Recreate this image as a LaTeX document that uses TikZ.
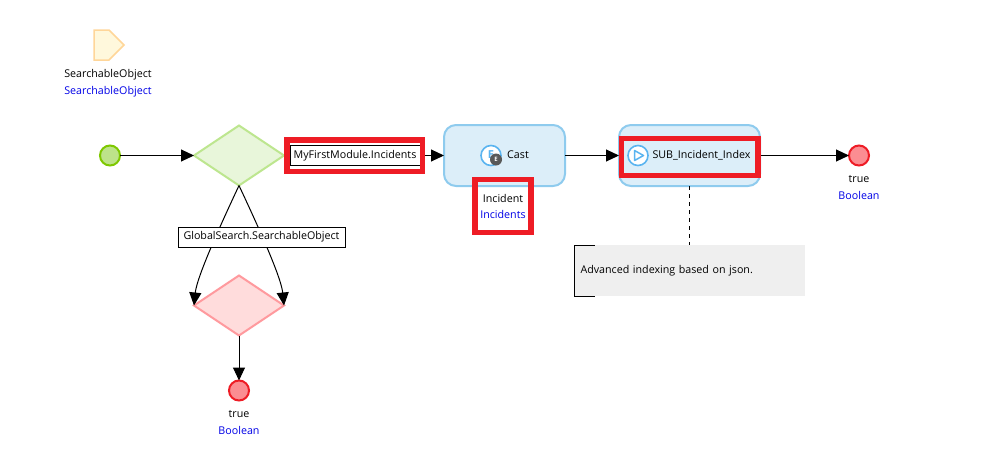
\documentclass[tikz,border=0pt]{standalone}
\usepackage{fontspec}
\setmainfont{Open Sans}
\usepackage{tikz}
\usetikzlibrary{arrows.meta,positioning,shapes.geometric}
\definecolor{startfill}{HTML}{BDE38A}
\definecolor{startline}{HTML}{7EC800}
\definecolor{greenfill}{HTML}{E8F6DA}
\definecolor{greenline}{HTML}{BDE68F}
\definecolor{pinkfill}{HTML}{FFDCDC}
\definecolor{pinkline}{HTML}{FF9A9E}
\definecolor{endfill}{HTML}{FB8D92}
\definecolor{endline}{HTML}{EE1C25}
\definecolor{boxfill}{HTML}{DCEEF9}
\definecolor{boxline}{HTML}{8ECBEE}
\definecolor{iconline}{HTML}{5AB4F0}
\definecolor{notefill}{HTML}{EFEFEF}
\definecolor{entfill}{HTML}{FFF8DC}
\definecolor{entline}{HTML}{FFD699}
\definecolor{typeblue}{HTML}{0000E6}

\begin{document}
\begin{tikzpicture}[
  x=1pt, y=1pt,
  >={Triangle[length=13pt,width=12pt]},
  every node/.style={font=\fontsize{10.7}{13}\selectfont, outer sep=0pt, text height=8pt, text depth=2.5pt},
  flow/.style={->, line width=1pt},
  startev/.style={circle, draw=startline, fill=startfill, line width=2pt, minimum size=20pt, inner sep=0pt},
  endev/.style={circle, draw=endline, fill=endfill, line width=2pt, minimum size=20pt, inner sep=0pt},
  split/.style={diamond, draw=greenline, fill=greenfill, line width=2pt, minimum width=90pt, minimum height=60pt, aspect=1.5, inner sep=0pt},
  merge/.style={diamond, draw=pinkline, fill=pinkfill, line width=2pt, minimum width=90pt, minimum height=60pt, aspect=1.5, inner sep=0pt},
  activity/.style={draw=boxline, fill=boxfill, rounded corners=12pt, line width=2pt, minimum height=61pt},
  tag/.style={draw, fill=white, line width=1pt, inner sep=0pt, minimum height=20pt},
  redframe/.style={draw=endline, line width=5.5pt, inner sep=0pt},
  typename/.style={text=typeblue, inner sep=0pt},
  varname/.style={inner sep=0pt},
  icon/.style={circle, draw=iconline, fill=white, line width=1.6pt, minimum size=20pt, inner sep=0pt}
]
\useasboundingbox (0,0) rectangle (1006,-474);

\node[startev] (Start) at (110,-155.5) {};
\node[split, right=74pt of Start] (Decision) {};
\node[tag, right=6pt of Decision, minimum width=130pt] (FlowLabel) {MyFirstModule.Incidents};
\node[activity, right=24pt of FlowLabel, minimum width=121pt] (Cast) {};
\node[activity, right=54pt of Cast, minimum width=141pt] (Sub) {};
\node[endev, right=89pt of Sub] (End) {};
\node[merge, below=90pt of Decision] (Merge) {};
\node[endev, below=45pt of Merge] (FalseEnd) {};

\draw[flow] (Start) -- (Decision);
\draw[line width=1pt] (Decision) -- (FlowLabel);
\draw[flow] (FlowLabel) -- (Cast);
\draw[flow] (Cast) -- (Sub);
\draw[flow] (Sub) -- (End);
\draw[flow] (Merge) -- (FalseEnd);
\draw[flow] (Decision.south) .. controls +(-14pt,-30pt) and +(3pt,30pt) .. (Merge.west);
\draw[flow] (Decision.south) .. controls +(14pt,-30pt) and +(-3pt,30pt) .. (Merge.east);

\node[tag, minimum width=167pt] (CaseLabel) at ([xshift=22.5pt,yshift=-51.5pt]Decision.south) {GlobalSearch.SearchableObject};

% parameter entity
\draw[draw=entline, fill=entfill, line width=1.5pt] (94,-30) -- (109,-30) -- (124,-45) -- (109,-60) -- (94,-60) -- cycle;
\node[varname] (ParamName) at (108,-75) {SearchableObject};
\node[typename, below=6pt of ParamName] (ParamType) {SearchableObject};

% returns
\node[varname, below=9pt of End] (EndName) {true};
\node[typename, below=6pt of EndName] (EndType) {Boolean};
\node[varname, below=9pt of FalseEnd] (FalseName) {true};
\node[typename, below=6pt of FalseName] (FalseType) {Boolean};

% activity captions
\node[icon, font=\fontsize{11}{13}\bfseries\selectfont, text=iconline] (CastIcon) at ([xshift=-13.5pt]Cast.center) {E};
\node[circle, fill=black!65, text=white, font=\fontsize{6}{7}\bfseries\selectfont, text height=4.5pt, text depth=0pt, minimum size=12pt, inner sep=0pt] (CastBadge) at ([xshift=5pt,yshift=-4pt]CastIcon.center) {E};
\node[varname] (CastText) at ([xshift=13.5pt]Cast.center) {Cast};
\node[varname] (CastVar) at ([yshift=-44pt,xshift=-1.5pt]Cast.center) {Incident};
\node[typename, below=6pt of CastVar] (CastType) {Incidents};
\node[icon] (SubIcon) at ([xshift=-51.5pt]Sub.center) {};
\draw[draw=iconline, line width=1.5pt, line join=round] ([xshift=-3.5pt,yshift=5pt]SubIcon.center) -- ([xshift=5.5pt]SubIcon.center) -- ([xshift=-3.5pt,yshift=-5pt]SubIcon.center) -- cycle;
\node[varname] (SubText) at ([xshift=12pt]Sub.center) {SUB\_Incident\_Index};

% annotation
\node[fill=notefill, below=59pt of Sub, minimum width=230pt, minimum height=51pt, text width=218pt, inner xsep=6pt, align=left] (Note) {Advanced indexing based on json.};
\draw[line width=1pt] ([xshift=20pt]Note.north west) -- (Note.north west) -- (Note.south west) -- ([xshift=20pt]Note.south west);
\draw[dashed, dash pattern=on 4pt off 4pt, line width=1pt] (Sub) -- (Note);

% highlights
\node[redframe, minimum width=135.5pt, minimum height=31.5pt] (FrameFlow) at ([xshift=-.5pt]FlowLabel.center) {};
\node[redframe, minimum width=56pt, minimum height=53pt] (FrameCast) at (503,-206) {};
\node[redframe, minimum width=136.5pt, minimum height=37pt] (FrameSub) at ([yshift=-1.5pt]Sub.center) {};
\end{tikzpicture}
\end{document}
